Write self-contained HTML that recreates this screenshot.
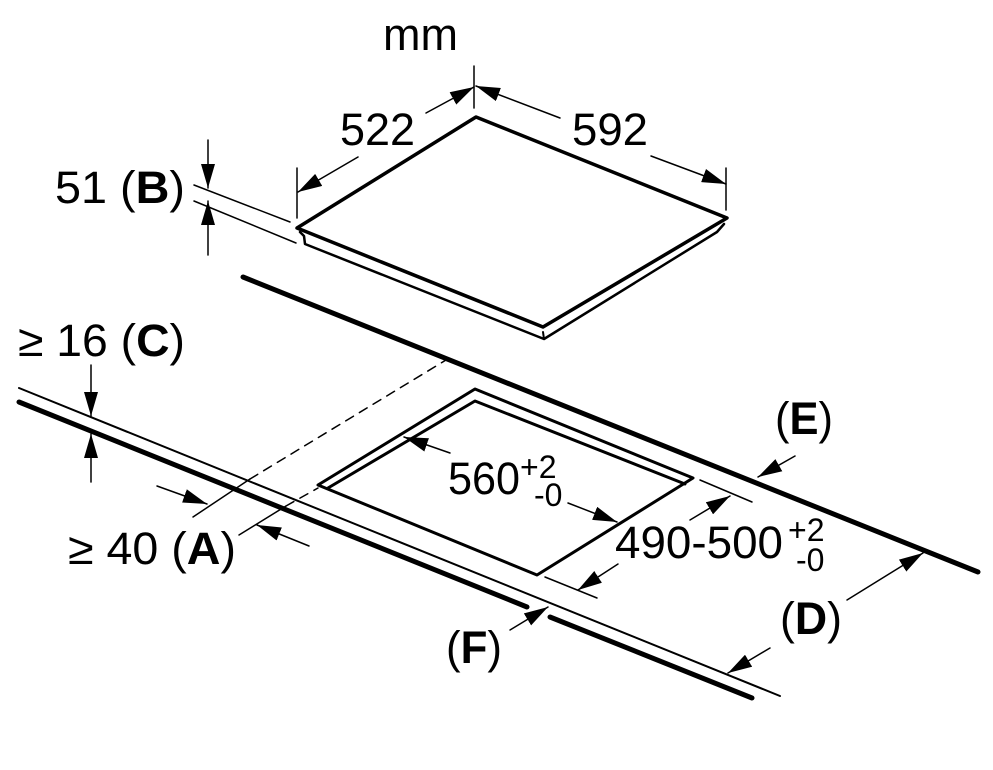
<!DOCTYPE html>
<html><head><meta charset="utf-8"><style>
html,body{margin:0;padding:0;background:#fff;}
svg{display:block;}
text{font-family:"Liberation Sans",sans-serif;fill:#000;}
</style></head><body>
<svg width="993" height="770" viewBox="0 0 993 770" xmlns="http://www.w3.org/2000/svg">
<defs>
<marker id="a" viewBox="0 0 24 14" refX="24" refY="7" markerWidth="24" markerHeight="14" markerUnits="userSpaceOnUse" orient="auto">
<path d="M0,0 L24,7 L0,14 Z" fill="#000"/></marker>
</defs>
<g stroke="#000" fill="none" stroke-linecap="round" stroke-linejoin="round">
<path d="M297,228 L476,117 L727,218 L543,327 Z" stroke-width="3.5" fill="#fff"/>
<path d="M300,232 L304,236 L305,244 L544,339 L717,232 L724,224" stroke-width="2.5"/>
<path d="M543,332 L544,339" stroke-width="2"/>
<g stroke-width="1.5">
<line x1="474" y1="66" x2="474" y2="108"/>
<line x1="297" y1="168" x2="297" y2="218"/>
<line x1="726" y1="168" x2="726" y2="210"/>
<line x1="426" y1="113" x2="474" y2="87" marker-end="url(#a)"/>
<line x1="358" y1="157" x2="298" y2="192" marker-end="url(#a)"/>
<line x1="560" y1="118" x2="476" y2="86" marker-end="url(#a)"/>
<line x1="651" y1="156" x2="726" y2="184" marker-end="url(#a)"/>
<line x1="194" y1="185" x2="290" y2="222"/>
<line x1="194" y1="201" x2="296" y2="243"/>
<line x1="208" y1="140" x2="208" y2="188" marker-end="url(#a)"/>
<line x1="208" y1="255" x2="208" y2="201" marker-end="url(#a)"/>
</g>
<line x1="243" y1="277" x2="978" y2="572" stroke-width="5"/>
<line x1="19" y1="388" x2="780" y2="696" stroke-width="2"/>
<line x1="19" y1="402" x2="527" y2="607" stroke-width="5"/>
<line x1="550" y1="617" x2="752" y2="698" stroke-width="5"/>
<g stroke-width="1.5">
<line x1="91" y1="365" x2="91" y2="416" marker-end="url(#a)"/>
<line x1="91" y1="482" x2="91" y2="434" marker-end="url(#a)"/>
<line x1="193" y1="517" x2="250" y2="479"/>
<line x1="250" y1="479" x2="446" y2="360" stroke-dasharray="9,7"/>
<line x1="239" y1="535" x2="286" y2="506"/>
<line x1="286" y1="506" x2="318" y2="488" stroke-dasharray="9,7"/>
<line x1="157" y1="486" x2="207" y2="504" marker-end="url(#a)"/>
<line x1="309" y1="546" x2="257" y2="525" marker-end="url(#a)"/>
</g>
<path d="M475,389 L693,478 L537,575 L318,485 Z" stroke-width="3"/>
<path d="M328,488 L475,401 L685,484" stroke-width="3"/>
<g stroke-width="1.5">
<line x1="450" y1="453" x2="404" y2="437" marker-end="url(#a)"/>
<line x1="568" y1="503" x2="617" y2="522" marker-end="url(#a)"/>
<line x1="700" y1="480" x2="752" y2="502"/>
<line x1="545" y1="577" x2="597" y2="598"/>
<line x1="690" y1="520" x2="730" y2="496" marker-end="url(#a)"/>
<line x1="618" y1="564" x2="578" y2="590" marker-end="url(#a)"/>
<line x1="795" y1="456" x2="758" y2="477" marker-end="url(#a)"/>
<line x1="847" y1="600" x2="923" y2="553" marker-end="url(#a)"/>
<line x1="770" y1="648" x2="728" y2="673" marker-end="url(#a)"/>
<line x1="510" y1="630" x2="548" y2="607" marker-end="url(#a)"/>
</g>
</g>
<g font-size="45">
<text x="383" y="50" textLength="75" lengthAdjust="spacingAndGlyphs">mm</text>
<text x="340" y="145" textLength="75" lengthAdjust="spacingAndGlyphs">522</text>
<text x="572" y="145" textLength="76" lengthAdjust="spacingAndGlyphs">592</text>
<text x="55" y="203" textLength="130" lengthAdjust="spacingAndGlyphs">51 (<tspan font-weight="bold">B</tspan>)</text>
<text x="18" y="356" textLength="167" lengthAdjust="spacingAndGlyphs">≥ 16 (<tspan font-weight="bold">C</tspan>)</text>
<text x="68" y="564" textLength="168" lengthAdjust="spacingAndGlyphs">≥ 40 (<tspan font-weight="bold">A</tspan>)</text>
<text x="448" y="494" textLength="72" lengthAdjust="spacingAndGlyphs">560</text>
<text x="615" y="558" textLength="168" lengthAdjust="spacingAndGlyphs">490-500</text>
<text x="775" y="434" textLength="58" lengthAdjust="spacingAndGlyphs">(<tspan font-weight="bold">E</tspan>)</text>
<text x="780" y="634" textLength="62" lengthAdjust="spacingAndGlyphs">(<tspan font-weight="bold">D</tspan>)</text>
<text x="446" y="663" textLength="56" lengthAdjust="spacingAndGlyphs">(<tspan font-weight="bold">F</tspan>)</text>
</g>
<g font-size="32">
<text x="520" y="478">+2</text>
<text x="534" y="506">-0</text>
<text x="788" y="541">+2</text>
<text x="796" y="571">-0</text>
</g>
</svg>
</body></html>
